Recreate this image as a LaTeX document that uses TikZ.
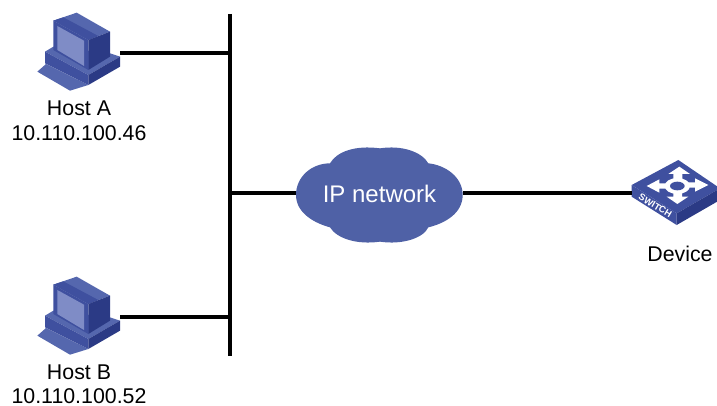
\documentclass[tikz,border=0pt]{standalone}
\usepackage{fontspec}
\setmainfont{Liberation Sans}
\definecolor{cloudblue}{HTML}{4F61A6}
\definecolor{iconmid}{HTML}{3F509F}
\definecolor{icondark}{HTML}{2B3A85}
\definecolor{iconlight}{HTML}{5567AE}
\definecolor{screenblue}{HTML}{7F8CC6}
\tikzset{
  wire/.style={draw=black,line width=2.8pt},
  traced/.style={x=0.25pt,y=-0.25pt},
  hostlabel/.style={font=\fontsize{16}{18}\selectfont,inner sep=0pt},
  iconbox/.style={inner sep=0pt,minimum width=83*0.75pt,minimum height=79*0.75pt},
  pics/hosticon/.style={code={
    \begin{scope}[traced]
    % keyboard
    \fill[iconlight] (52,215) -- (78,192) -- (205,255) -- (150,272) -- cycle;
    % base
    \fill[iconlight] (75,155) -- (100,140) -- (270,160) -- (300,170) -- (205,225) -- cycle;
    \fill[iconmid] (75,155) -- (205,225) -- (205,255) -- (75,190) -- cycle;
    \fill[icondark] (205,225) -- (300,170) -- (300,200) -- (205,255) -- cycle;
    % monitor
    \fill[iconlight] (100,62) -- (170,38) -- (270,95) -- (205,120) -- cycle;
    \fill[iconmid] (100,62) -- (130,52) -- (235,108) -- (205,120) -- cycle;
    \fill[icondark] (205,120) -- (270,95) -- (270,170) -- (205,210) -- cycle;
    \fill[iconmid] (100,62) -- (205,120) -- (205,210) -- (100,150) -- cycle;
    \fill[screenblue] (112,78) -- (192,122) -- (192,198) -- (112,150) -- cycle;
    \end{scope}
  }},
  pics/switchicon/.style={code={
    \begin{scope}[traced]
    \fill[iconmid] (35,105) -- (175,30) -- (300,115) -- (170,190) -- cycle;
    \fill[iconmid] (35,105) -- (170,190) -- (170,225) -- (35,140) -- cycle;
    \fill[icondark] (170,190) -- (300,115) -- (300,150) -- (170,225) -- cycle;
    % arrows
    \fill[white] (178,50) -- (210,72) -- (187,72) -- (187,90) -- (160,90) -- (160,72) -- (145,72) -- cycle;
    \fill[white] (172,162) -- (205,140) -- (186,140) -- (186,125) -- (160,125) -- (160,140) -- (140,140) -- cycle;
    \fill[white] (80,108) -- (118,88) -- (118,100) -- (140,100) -- (140,116) -- (118,116) -- (118,128) -- cycle;
    \fill[white] (265,105) -- (225,85) -- (225,97) -- (205,97) -- (205,113) -- (225,113) -- (225,125) -- cycle;
    \fill[white] (172,108) ellipse (38 and 24);
    \fill[iconmid] (172,108) ellipse (22 and 13);
    \node[white,font=\bfseries\fontsize{7}{8}\selectfont,rotate=-31,inner sep=0pt] (switchtext) at (106,167) {SWITCH};
    \end{scope}
  }}
}
\begin{document}
\begin{tikzpicture}[x=0.75pt,y=-0.75pt]
    \useasboundingbox (0,0) rectangle (717,406);

    % cloud outline, traced at 3x
    \fill[cloudblue,shift={(285,140)},traced] (285,25) .. controls (210,15) and (155,35) .. (135,70)
        .. controls (80,70) and (33,110) .. (33,165)
        .. controls (33,220) and (90,250) .. (135,262)
        .. controls (155,295) and (215,315) .. (285,305)
        .. controls (350,315) and (415,295) .. (430,262)
        .. controls (480,250) and (533,220) .. (533,165)
        .. controls (533,110) and (480,75) .. (430,70)
        .. controls (410,35) and (350,15) .. (285,25) -- cycle;

    \node[iconbox] (hostA) at (78.5,53) {};
    \node[iconbox] (hostB) at (78.5,317) {};
    \node[inner sep=0pt,minimum width=83*0.75pt,minimum height=66*0.75pt] (device) at (674,193) {};
    \node[inner sep=0pt,minimum width=167*0.75pt,minimum height=95*0.75pt,text=white,font=\fontsize{18}{20}\selectfont] (cloud) at (379.5,194) {IP network};

    \pic at (20,0) {hosticon};
    \pic at (20,264) {hosticon};
    \pic at (620,150) {switchicon};

    \node[hostlabel] (labelA) at (79,108) {Host A};
    \node[hostlabel] (addrA) at (79,133) {10.110.100.46};
    \node[hostlabel] (labelB) at (79,372) {Host B};
    \node[hostlabel] (addrB) at (79,396) {10.110.100.52};
    \node[hostlabel] (labelD) at (680,254) {Device};

    \coordinate (busTop) at (230,14);
    \coordinate (busBottom) at (230,356);
    \coordinate (busA) at (230,53);
    \coordinate (busC) at (230,193);
    \coordinate (busB) at (230,317);

    \path [wire] (busTop) edge (busBottom);
    \path [wire] (hostA.east) edge (busA);
    \path [wire] (hostB.east) edge (busB);
    \path [wire] (busC) edge (cloud.west |- busC);
    \path [wire] (cloud.east |- busC) edge (device.west |- busC);
\end{tikzpicture}
\end{document}
